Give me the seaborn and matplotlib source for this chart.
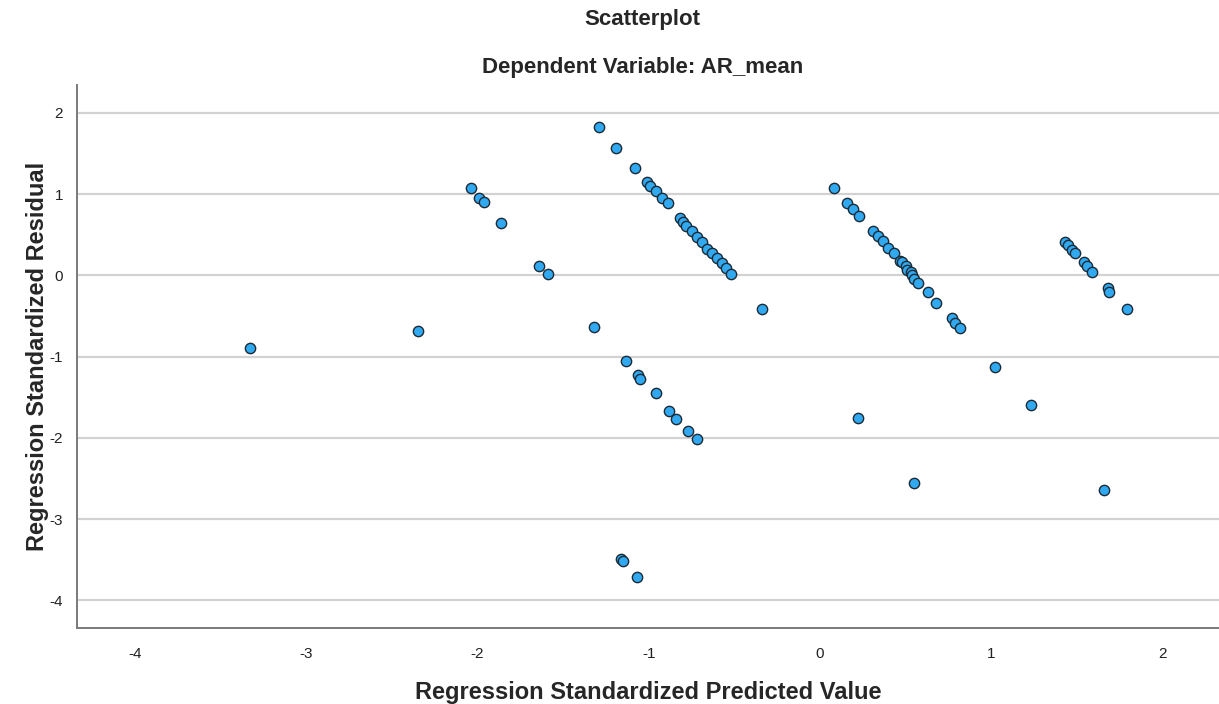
import matplotlib
matplotlib.use("Agg")
import matplotlib.pyplot as plt
import seaborn as sns
import pandas as pd

# standardized predicted value (x) and standardized residual (y)
pred = [-3.33, -2.35, -2.04, -1.99, -1.96, -1.86, -1.64, -1.59,
        -1.32, -1.29, -1.19, -1.13, -1.08, -1.06, -1.05, -1.01, -0.99, -0.96, -0.92, -0.89,
        -0.96, -0.88, -0.84, -0.77, -0.72,
        -0.82, -0.80, -0.78, -0.75, -0.72, -0.69, -0.66, -0.63, -0.60, -0.57, -0.55, -0.52,
        -0.34, -1.16, -1.15, -1.07,
        0.08, 0.16, 0.19, 0.23, 0.31, 0.34, 0.37, 0.40, 0.43, 0.47, 0.48, 0.50, 0.51, 0.53,
        0.54, 0.55, 0.57, 0.63, 0.68, 0.77, 0.79, 0.82,
        1.02, 1.23, 0.22, 0.55,
        1.43, 1.45, 1.47, 1.49, 1.54, 1.56, 1.59, 1.68, 1.69, 1.79, 1.66]
resid = [-0.90, -0.69, 1.08, 0.95, 0.90, 0.65, 0.12, 0.02,
         -0.63, 1.82, 1.57, -1.06, 1.32, -1.23, -1.28, 1.15, 1.10, 1.04, 0.95, 0.89,
         -1.45, -1.67, -1.77, -1.92, -2.02,
         0.71, 0.66, 0.61, 0.54, 0.47, 0.41, 0.33, 0.27, 0.21, 0.15, 0.09, 0.02,
         -0.42, -3.49, -3.52, -3.71,
         1.08, 0.89, 0.82, 0.73, 0.54, 0.48, 0.42, 0.34, 0.27, 0.18, 0.16, 0.12, 0.06, 0.04,
         0.00, -0.04, -0.09, -0.21, -0.34, -0.52, -0.59, -0.65,
         -1.13, -1.59, -1.75, -2.55,
         0.41, 0.37, 0.31, 0.27, 0.16, 0.12, 0.04, -0.16, -0.21, -0.42, -2.64]
xticks = [-4, -3, -2, -1, 0, 1, 2]
yticks = [-4, -3, -2, -1, 0, 1, 2]

df = pd.DataFrame({"pred": pred, "resid": resid})

sns.set_style("white")
plt.rcParams["font.family"] = ["Liberation Sans", "DejaVu Sans"]
plt.rcParams["axes.unicode_minus"] = False

fig = plt.figure(figsize=(12.19, 7.04), dpi=100)
ax = fig.add_axes([0.063, 0.108, 0.937, 0.771])

for v in yticks:
    ax.axhline(v, color="#d2d2d2", lw=1.6, zorder=0)

sns.scatterplot(data=df, x="pred", y="resid", ax=ax, s=55,
                color="#30a9f0", edgecolor="#1c2a36", linewidth=1.0, zorder=3)

ax.set_xlim(-4.34, 2.33)
ax.set_ylim(-4.34, 2.34)
ax.set_xticks(xticks)
ax.set_yticks(yticks)
ax.tick_params(axis="both", length=0, labelsize=11, colors="#222222", pad=14)
ax.tick_params(axis="y", pad=10)

for side in ["top", "right"]:
    ax.spines[side].set_visible(False)
for side in ["left", "bottom"]:
    ax.spines[side].set_color("#7a7a7a")
    ax.spines[side].set_linewidth(1.4)

ax.set_xlabel("Regression Standardized Predicted Value", fontsize=17, fontweight="bold",
              labelpad=14)
ax.set_ylabel("Regression Standardized Residual", fontsize=17, fontweight="bold",
              labelpad=0)

fig.text(0.527, 1 - 20 / 704, "Scatterplot", ha="center", va="center",
         fontsize=16, fontweight="bold")
fig.text(0.527, 1 - 67 / 704, "Dependent Variable: AR_mean", ha="center",
         va="center", fontsize=16, fontweight="bold")

fig.savefig("out.png", dpi=100)
